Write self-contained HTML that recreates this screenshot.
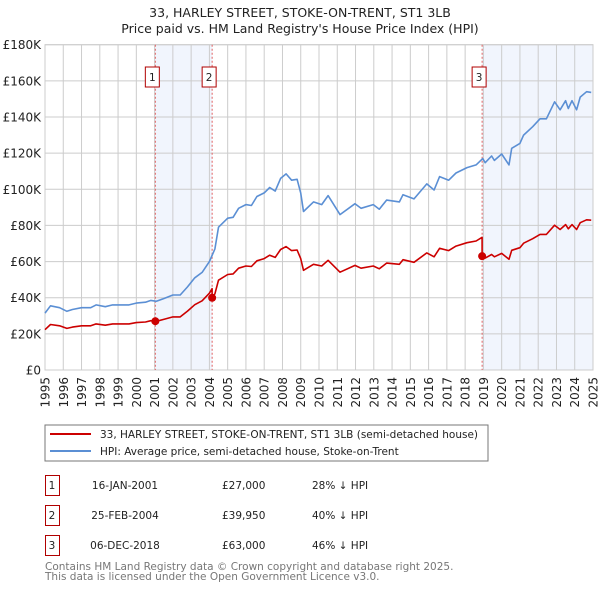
<!DOCTYPE html>
<html><head><meta charset="utf-8"><style>
body{margin:0;background:#fff;font-family:"Liberation Sans","DejaVu Sans",sans-serif;}
svg text{font-family:"DejaVu Sans","Liberation Sans",sans-serif;}
</style></head><body>
<svg id="c" width="600" height="590" xmlns="http://www.w3.org/2000/svg">
<text x="300" y="17" text-anchor="middle" font-size="12.5" fill="#222">33, HARLEY STREET, STOKE-ON-TRENT, ST1 3LB</text>
<text x="300" y="33" text-anchor="middle" font-size="12.5" fill="#222">Price paid vs. HM Land Registry's House Price Index (HPI)</text>
<g id="plot"></g>
<rect x="45" y="425" width="443" height="36" fill="#fff" stroke="#777"/>
<line x1="50" y1="434" x2="91" y2="434" stroke="#cc0000" stroke-width="2"/>
<text x="100" y="438" font-size="10.5" fill="#222">33, HARLEY STREET, STOKE-ON-TRENT, ST1 3LB (semi-detached house)</text>
<line x1="50" y1="451" x2="91" y2="451" stroke="#5b8fd4" stroke-width="2"/>
<text x="100" y="455" font-size="10.5" fill="#222">HPI: Average price, semi-detached house, Stoke-on-Trent</text>
<g id="tbl" font-size="10.5" fill="#222"></g>
<text x="45" y="570" font-size="10.5" fill="#777">Contains HM Land Registry data © Crown copyright and database right 2025.</text>
<text x="45" y="580" font-size="10.5" fill="#777">This data is licensed under the Open Government Licence v3.0.</text>
</svg>
<script>
const hpiT=[1995.0,1995.3,1995.8,1996.2,1996.5,1997.0,1997.5,1997.8,1998.3,1998.7,1999.2,1999.6,2000.0,2000.5,2000.8,2001.1,2001.5,2002.0,2002.4,2002.8,2003.2,2003.6,2004.0,2004.3,2004.5,2005.0,2005.3,2005.6,2006.0,2006.3,2006.6,2007.0,2007.3,2007.6,2007.9,2008.2,2008.5,2008.8,2009.0,2009.15,2009.7,2010.15,2010.5,2011.15,2011.97,2012.3,2012.97,2013.3,2013.7,2014.4,2014.6,2015.2,2015.9,2016.3,2016.6,2017.1,2017.5,2018.1,2018.6,2018.96,2019.1,2019.45,2019.6,2020.0,2020.4,2020.55,2021.0,2021.2,2021.7,2022.1,2022.45,2022.9,2023.2,2023.5,2023.65,2023.85,2024.1,2024.3,2024.65,2024.9];
const hpiV=[31.5,35.5,34.5,32.5,33.5,34.5,34.5,36,35,36,36,36,37,37.5,38.5,38,39.5,41.5,41.5,46,51,54,60,67,79,84,84.5,89.5,91.5,91,96,98,101,99,106,108.5,105,105.5,98,87.7,93,91.5,96.5,86,92,89.5,91.5,89,94,93,97,94.7,103,99.6,107,105,109,112,113.5,117,114.7,118.4,116,119.5,113.5,122.7,125.4,130,134.6,139,139,148.4,144,149,144.7,149,144,151,154,153.6];
const saleT=[2001.04,2004.15,2018.93];
const saleP=[27000,39950,63000];
const saleLabels=["1","2","3"];
const saleDates=["16-JAN-2001","25-FEB-2004","06-DEC-2018"];
const salePrices=["£27,000","£39,950","£63,000"];
const saleDiff=["28% ↓ HPI","40% ↓ HPI","46% ↓ HPI"];
const yTicks=[0,20,40,60,80,100,120,140,160,180];
const yTickLabels=["£0","£20K","£40K","£60K","£80K","£100K","£120K","£140K","£160K","£180K"];
const xYears=[1995,1996,1997,1998,1999,2000,2001,2002,2003,2004,2005,2006,2007,2008,2009,2010,2011,2012,2013,2014,2015,2016,2017,2018,2019,2020,2021,2022,2023,2024,2025];

const X0=45,X1=593,Y0=370,Y1=44.7;
const sx=t=>X0+(t-1995)/30*(X1-X0);
const sy=v=>Y0-v/180*(Y0-Y1);
const NS="http://www.w3.org/2000/svg";
const g=document.getElementById('plot');
function mk(tag,attrs,parent){const e=document.createElementNS(NS,tag);for(const k in attrs)e.setAttribute(k,attrs[k]);(parent||g).appendChild(e);return e;}
function hpiAt(t){for(let i=0;i<hpiT.length-1;i++){if(t>=hpiT[i]&&t<=hpiT[i+1]){const f=(t-hpiT[i])/(hpiT[i+1]-hpiT[i]);return hpiV[i]+f*(hpiV[i+1]-hpiV[i]);}}return hpiV[hpiV.length-1];}

let r=mk('rect',{x:sx(saleT[0]),y:Y1,width:sx(saleT[1])-sx(saleT[0]),height:Y0-Y1,fill:'#f1f5fd'});


r=mk('rect',{x:sx(saleT[2]),y:Y1,width:X1-sx(saleT[2]),height:Y0-Y1,fill:'#f1f5fd'});



yTicks.forEach((v,i)=>{
  const l=mk('line',{x1:X0,x2:X1,y1:sy(v),y2:sy(v),stroke:'#ccc','stroke-width':1});
  
  
  const t=mk('text',{x:X0-4,y:sy(v)+4.5,'text-anchor':'end','font-size':12,fill:'#222'});
  t.textContent=yTickLabels[i];
  
  
});
xYears.forEach(y=>{
  const l=mk('line',{x1:sx(y),x2:sx(y),y1:Y1,y2:Y0,stroke:'#ccc','stroke-width':1});
  
  
  const t=mk('text',{x:0,y:0,'text-anchor':'end','font-size':12,fill:'#222',transform:`translate(${sx(y)+4.5},${Y0+7}) rotate(-90)`});
  t.textContent=y;
  
  
});
const ax=mk('rect',{x:X0,y:Y1,width:X1-X0,height:Y0-Y1,fill:'none',stroke:'#ccc'});



saleT.forEach((t,i)=>{
  const l=mk('line',{x1:sx(t),x2:sx(t),y1:Y1,y2:Y0,stroke:'#e06060','stroke-width':1,'stroke-dasharray':'2,2'});
  
  
});

let d='';hpiT.forEach((t,i)=>{d+=(i?'L':'M')+sx(t).toFixed(1)+','+sy(hpiV[i]).toFixed(1);});
const hp=mk('path',{d:d,fill:'none',stroke:'#5b8fd4','stroke-width':1.6,'stroke-linejoin':'round'});



const ratios=saleT.map((t,i)=>saleP[i]/1000/hpiAt(t));
function ratioAt(t){let k=0;for(let i=0;i<saleT.length;i++)if(t>=saleT[i])k=i;return ratios[k];}
let pts=[];
const allT=hpiT.concat(saleT).concat(saleT.map(t=>t-0.001)).sort((a,b)=>a-b);
allT.forEach(t=>pts.push([t,hpiAt(t)*ratioAt(t)]));
d='';pts.forEach((p,i)=>{d+=(i?'L':'M')+sx(p[0]).toFixed(1)+','+sy(p[1]).toFixed(1);});
const pp=mk('path',{d:d,fill:'none',stroke:'#cc0000','stroke-width':1.6,'stroke-linejoin':'round'});



saleT.forEach((t,i)=>{
  const c=mk('circle',{cx:sx(t),cy:sy(saleP[i]/1000),r:4,fill:'#cc0000'});
  
  
  const b=mk('rect',{x:sx(t)-10,y:67,width:14,height:20,fill:'#fff',stroke:'#b00000'});
  
  
  const tx=mk('text',{x:sx(t)-3,y:81,'text-anchor':'middle','font-size':10.5,fill:'#222'});
  tx.textContent=saleLabels[i];
  
  
});

const tb=document.getElementById('tbl');
saleT.forEach((t,i)=>{
  const y=496+i*30;
  const b=mk('rect',{x:45.5,y:y-20.5,width:14,height:20,fill:'#fff',stroke:'#b00000'},tb);
  
  
  const vals=[[52,saleLabels[i],'middle'],[125,saleDates[i],'middle'],[222,salePrices[i],'start'],[312,saleDiff[i],'start']];
  vals.forEach(v=>{
    const e=mk('text',{x:v[0],y:y-7,'text-anchor':v[2]},tb);
    e.textContent=v[1];
    
    
  });
});
</script>
</body></html>
